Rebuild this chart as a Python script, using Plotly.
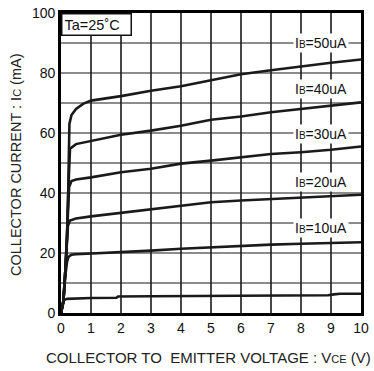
import plotly.graph_objects as go

# Collector characteristics: Vce (V) vs Ic (mA), one list pair per base-current curve
vce_c1 = [0, 0.05, 0.1, 0.2, 0.5, 1, 1.85, 1.9, 3, 5, 7, 8, 8.9, 9.1, 9.3, 10]
ic_c1 = [0, 2.5, 4.3, 4.7, 4.9, 5.0, 5.1, 5.5, 5.6, 5.7, 5.8, 5.8, 5.9, 6.2, 6.4, 6.4]

vce_c2 = [0, 0.08, 0.15, 0.2, 0.25, 0.35, 0.5, 1, 2, 3, 4, 5, 6, 7, 8, 9, 10]
ic_c2 = [0, 4, 13, 17, 18.7, 19.4, 19.6, 19.8, 20.2, 20.8, 21.4, 21.9, 22.3, 22.8, 23.1, 23.4, 23.6]

vce_c3 = [0, 0.08, 0.15, 0.2, 0.23, 0.3, 0.5, 1, 2, 3, 4, 5, 6, 7, 8, 9, 10]
ic_c3 = [0, 4, 15, 24, 29, 30.8, 31.5, 32.2, 33.4, 34.7, 35.9, 36.9, 37.5, 38.0, 38.5, 39.0, 39.4]

vce_c4 = [0, 0.08, 0.15, 0.2, 0.24, 0.27, 0.35, 0.5, 1, 2, 3, 4, 5, 6, 7, 8, 9, 10]
ic_c4 = [0, 4, 15, 25, 38, 42, 44, 44.5, 45.2, 46.9, 48.1, 49.8, 50.8, 51.9, 53.0, 53.6, 54.4, 55.5]

vce_c5 = [0, 0.08, 0.15, 0.2, 0.24, 0.27, 0.3, 0.5, 1, 2, 3, 4, 5, 6, 7, 8, 9, 10]
ic_c5 = [0, 4, 15, 25, 40, 52, 54.8, 56.3, 57.4, 59.4, 60.8, 62.4, 64.4, 65.5, 66.9, 68.0, 69.1, 70.2]

vce_c6 = [0, 0.08, 0.15, 0.2, 0.24, 0.26, 0.28, 0.35, 0.5, 0.75, 1, 2, 3, 4, 5, 6, 7, 8, 9, 10]
ic_c6 = [0, 4, 15, 25, 40, 55, 63, 66, 68, 69.8, 70.8, 72.3, 74.1, 75.6, 77.5, 79.6, 80.9, 82.2, 83.4, 84.5]

curves = [(vce_c1, ic_c1), (vce_c2, ic_c2), (vce_c3, ic_c3),
          (vce_c4, ic_c4), (vce_c5, ic_c5), (vce_c6, ic_c6)]

# Base-current labels and their positions on the chart
ib_labels = ["50uA", "40uA", "30uA", "20uA", "10uA"]
ib_label_ic = [90, 74.7, 59.6, 43.6, 28.3]
ib_label_vce = 8.67

x_ticks = list(range(0, 11))
y_ticks = list(range(0, 101, 10))
y_ticktext = [str(v) if v % 20 == 0 else "" for v in y_ticks]

FONT = "Liberation Sans, Arial, sans-serif"
INK = "#111111"

W, H = 374, 371
L, R, T, B = 61, 13, 13, 58
PW, PH = W - L - R, H - T - B


def px_x(p):
    return (p - L) / PW


def px_y(p):
    return 1 - (p - T) / PH


fig = go.Figure()

# Grid: vertical and horizontal segments, drawn as line traces under the curves
vx_grid, vy_grid = [], []
for xv in x_ticks[1:-1]:
    vx_grid += [xv, xv, None]
    vy_grid += [y_ticks[0], y_ticks[-1], None]
hx_grid, hy_grid = [], []
for yv in y_ticks[1:-1]:
    hx_grid += [x_ticks[0], x_ticks[-1], None]
    hy_grid += [yv, yv, None]
fig.add_trace(go.Scatter(
    x=vx_grid, y=vy_grid, mode="lines", connectgaps=False,
    line=dict(color="#1a1a1a", width=1.6),
    showlegend=False, hoverinfo="skip",
))
fig.add_trace(go.Scatter(
    x=hx_grid, y=hy_grid, mode="lines", connectgaps=False,
    line=dict(color="#1a1a1a", width=1.2),
    showlegend=False, hoverinfo="skip",
))

for vx, iy in curves:
    fig.add_trace(go.Scatter(
        x=vx, y=iy, mode="lines",
        line=dict(color="#1a1a1a", width=2.6),
        showlegend=False, hoverinfo="skip",
    ))

for lab, yv in zip(ib_labels, ib_label_ic):
    fig.add_annotation(
        x=ib_label_vce, y=yv, xref="x", yref="y",
        text='I<span style="font-size:10px">B</span>=' + lab,
        showarrow=False, bgcolor="white", borderpad=1,
        font=dict(family=FONT, size=14, color=INK),
    )

fig.add_annotation(
    x=0, y=100, xref="x", yref="y", xanchor="left", yanchor="top",
    text="Ta=25˚C", showarrow=False, bgcolor="white",
    bordercolor="#111111", borderwidth=1.5, borderpad=2,
    width=64, height=16, align="left",
    font=dict(family=FONT, size=14.5, color=INK),
)

fig.add_annotation(
    x=px_x(208), y=px_y(357), xref="paper", yref="paper", showarrow=False,
    xanchor="center", yanchor="middle",
    text='COLLECTOR TO\u00a0 EMITTER VOLTAGE : V<span style="font-size:11px">CE</span> (V)',
    font=dict(family=FONT, size=15, color="#222222"),
)
fig.add_annotation(
    x=px_x(16), y=px_y(165), xref="paper", yref="paper", showarrow=False,
    xanchor="center", yanchor="middle", textangle=-90,
    text='COLLECTOR CURRENT : I<span style="font-size:11px">C</span> (mA)',
    font=dict(family=FONT, size=14.5, color="#222222"),
)

axis_common = dict(
    showgrid=False,
    showline=True, linecolor="black", linewidth=2.6, mirror=True,
    zeroline=False, ticks="", automargin=False,
    tickfont=dict(family=FONT, size=14, color=INK),
)

fig.update_layout(
    template="none",
    width=W, height=H, autosize=False,
    margin=dict(l=L, r=R, t=T, b=B, pad=0),
    paper_bgcolor="white", plot_bgcolor="white",
    xaxis=dict(range=[0, 10], tickmode="array", tickvals=x_ticks, **axis_common),
    yaxis=dict(range=[0, 100], tickmode="array", tickvals=y_ticks,
               ticktext=y_ticktext, **axis_common),
)

fig.write_html("out.html")
